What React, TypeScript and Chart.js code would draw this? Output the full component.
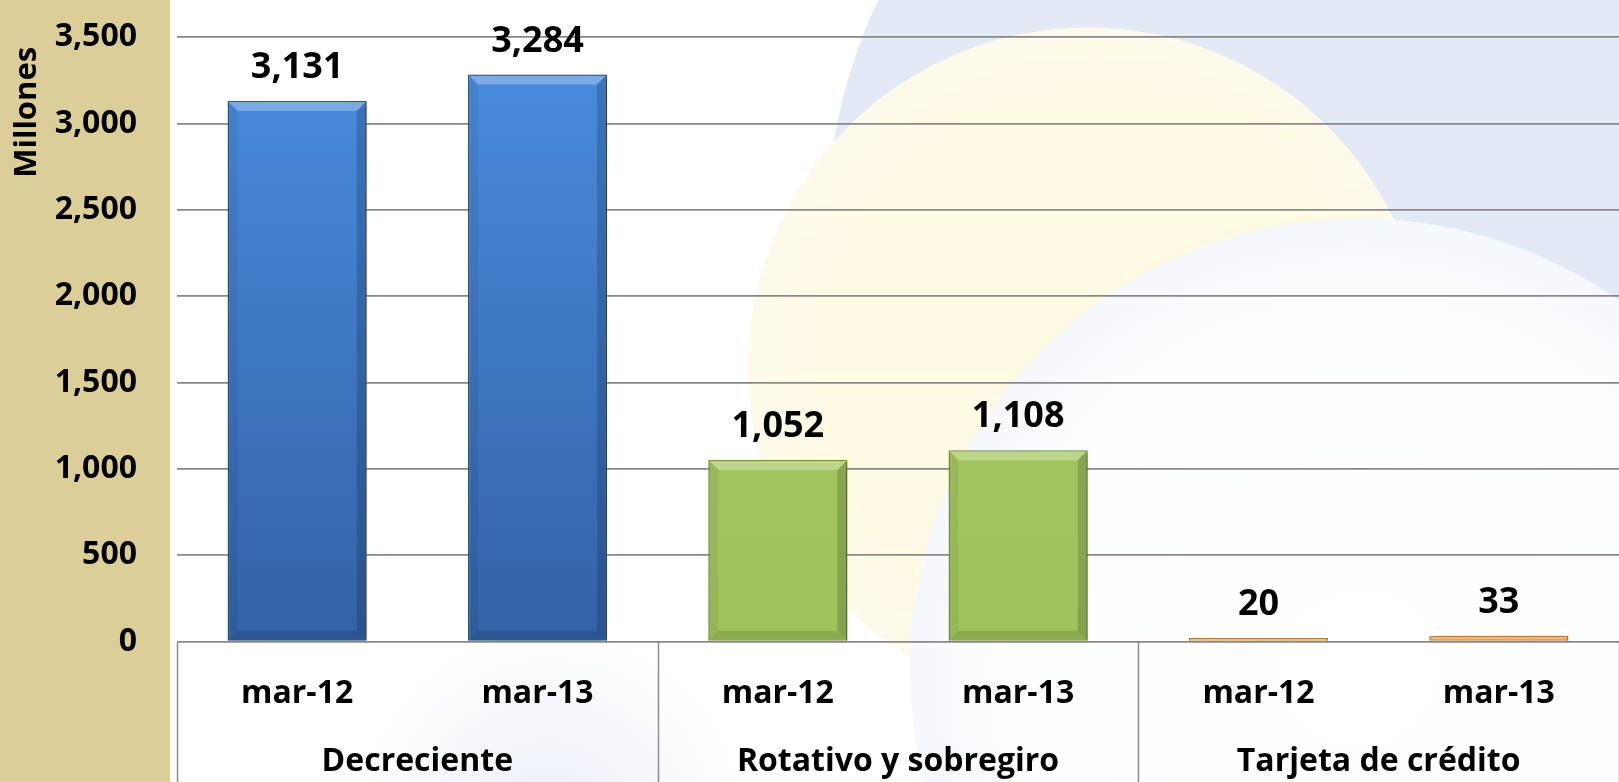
import React, { useEffect, useRef } from 'react';
import { Chart, registerables } from 'chart.js';

Chart.register(...registerables);

// ---- data ----
const categories = ['mar-12', 'mar-13', 'mar-12', 'mar-13', 'mar-12', 'mar-13'];
const groups = ['Decreciente', 'Rotativo y sobregiro', 'Tarjeta de crédito'];
const values = [3131, 3284, 1052, 1108, 20, 33];
const yTicks = [0, 500, 1000, 1500, 2000, 2500, 3000, 3500];
const yTitle = 'Millones';

// ---- styles ----
const FONT = "'Open Sans', 'DejaVu Sans', sans-serif";
const groupStyles = [
  { top: '#4A8DE0', bottom: '#3362A6', border: '#2B5894' },
  { top: '#A9CB66', bottom: '#A0C25C', border: '#7A9A3C' },
  { top: '#F4B46C', bottom: '#E49A50', border: '#BF7A38' },
];
const styleFor = (i: number) => groupStyles[Math.floor(i / 2)];

const fmt = (v: number) => v.toLocaleString('en-US');

const bgPlugin = {
  id: 'bgDecor',
  beforeDraw(chart: any) {
    const { ctx, width: w, height: h } = chart;
    ctx.save();
    ctx.fillStyle = '#FFFFFF';
    ctx.fillRect(0, 0, w, h);
    // faint blue-grey haze lower-left
    const lg = ctx.createRadialGradient(w * 0.34, h * 1.05, 0, w * 0.34, h * 1.05, w * 0.12);
    lg.addColorStop(0, 'rgba(232,237,246,0.9)');
    lg.addColorStop(1, 'rgba(232,237,246,0)');
    ctx.fillStyle = lg;
    ctx.fillRect(0, 0, w, h);
    // light blue disc top-right
    ctx.fillStyle = '#E4EAF5';
    ctx.beginPath();
    ctx.arc(w * 0.85, h * 0.3, w * 0.34, 0, Math.PI * 2);
    ctx.fill();
    ctx.fillRect(w * 0.85, 0, w * 0.15, h * 0.5);
    // pale yellow disc
    const cx = w * 0.672, cy = h * 0.47, r = w * 0.21;
    const yg = ctx.createRadialGradient(cx + r * 0.3, cy, 0, cx, cy, r);
    yg.addColorStop(0, 'rgba(255,250,226,1)');
    yg.addColorStop(0.85, 'rgba(255,250,228,1)');
    yg.addColorStop(1, 'rgba(253,250,236,1)');
    ctx.fillStyle = yg;
    ctx.beginPath();
    ctx.arc(cx, cy, r, 0, Math.PI * 2);
    ctx.fill();
    // white disc bottom-right
    const wx = w * 0.84, wy = h * 0.855, wr = w * 0.278;
    const wg = ctx.createRadialGradient(wx, wy, 0, wx, wy, wr);
    wg.addColorStop(0, 'rgba(255,255,255,1)');
    wg.addColorStop(0.8, 'rgba(252,253,255,1)');
    wg.addColorStop(1, 'rgba(245,248,252,1)');
    ctx.fillStyle = wg;
    ctx.beginPath();
    ctx.arc(wx, wy, wr, 0, Math.PI * 2);
    ctx.fill();
    // tan side panel
    ctx.fillStyle = '#DBCE99';
    ctx.fillRect(0, 0, 170, h);
    ctx.restore();
  },
};

const barDecorPlugin = {
  id: 'barDecor',
  beforeDatasetsDraw(chart: any) {
    const { ctx } = chart;
    ctx.save();
    ctx.shadowColor = 'rgba(0,0,0,0.35)';
    ctx.shadowBlur = 6;
    ctx.shadowOffsetX = 2;
    ctx.shadowOffsetY = 2;
  },
  afterDatasetsDraw(chart: any) {
    const { ctx } = chart;
    ctx.restore();
    const meta = chart.getDatasetMeta(0);
    ctx.save();
    meta.data.forEach((bar: any, i: number) => {
      const left = bar.x - bar.width / 2;
      const right = bar.x + bar.width / 2;
      const top = bar.y;
      const bottom = bar.base;
      const hgt = bottom - top;
      const b = Math.min(9, hgt / 2);
      // top bevel (light)
      ctx.fillStyle = 'rgba(255,255,255,0.28)';
      ctx.beginPath();
      ctx.moveTo(left + 1, top + 1);
      ctx.lineTo(right - 1, top + 1);
      ctx.lineTo(right - 1 - b, top + 1 + b);
      ctx.lineTo(left + 1 + b, top + 1 + b);
      ctx.closePath();
      ctx.fill();
      if (hgt > 20) {
        ctx.fillStyle = 'rgba(0,0,0,0.06)';
        ctx.beginPath();
        ctx.moveTo(left + 1, top + 1);
        ctx.lineTo(left + 1 + b, top + 1 + b);
        ctx.lineTo(left + 1 + b, bottom - 1 - b);
        ctx.lineTo(left + 1, bottom - 1);
        ctx.closePath();
        ctx.fill();
        ctx.fillStyle = 'rgba(0,0,0,0.16)';
        ctx.beginPath();
        ctx.moveTo(right - 1, top + 1);
        ctx.lineTo(right - 1 - b, top + 1 + b);
        ctx.lineTo(right - 1 - b, bottom - 1 - b);
        ctx.lineTo(right - 1, bottom - 1);
        ctx.closePath();
        ctx.fill();
        ctx.fillStyle = 'rgba(0,0,0,0.12)';
        ctx.beginPath();
        ctx.moveTo(left + 1, bottom - 1);
        ctx.lineTo(left + 1 + b, bottom - 1 - b);
        ctx.lineTo(right - 1 - b, bottom - 1 - b);
        ctx.lineTo(right - 1, bottom - 1);
        ctx.closePath();
        ctx.fill();
      }
      // value label
      ctx.fillStyle = '#000000';
      ctx.font = `bold 36px ${FONT}`;
      ctx.textAlign = 'center';
      ctx.textBaseline = 'alphabetic';
      ctx.fillText(fmt(values[i]), bar.x, top - 23);
    });
    ctx.restore();
  },
  afterDraw(chart: any) {
    const { ctx, chartArea, height } = chart;
    const xs = chart.scales.x;
    ctx.save();
    ctx.strokeStyle = '#8C8C8C';
    ctx.lineWidth = 1.5;
    const n = categories.length;
    const step = xs.getPixelForValue(1) - xs.getPixelForValue(0);
    for (let g = 0; g <= groups.length; g++) {
      const idx = g * 2;
      const xPix = idx < n ? xs.getPixelForValue(idx) - step / 2 : xs.getPixelForValue(n - 1) + step / 2;
      ctx.beginPath();
      ctx.moveTo(Math.round(xPix) + 0.5, chartArea.bottom);
      ctx.lineTo(Math.round(xPix) + 0.5, height);
      ctx.stroke();
    }
    // y-axis title, rotated, near the top of the axis
    ctx.translate(27, chartArea.top + 75);
    ctx.rotate(-Math.PI / 2);
    ctx.fillStyle = '#000000';
    ctx.font = `bold 31px ${FONT}`;
    ctx.textAlign = 'center';
    ctx.textBaseline = 'middle';
    ctx.fillText(yTitle, 0, 0);
    ctx.restore();
  },
};

export default function App() {
  const ref = useRef<HTMLCanvasElement | null>(null);

  useEffect(() => {
    if (!ref.current) return;
    const chart = new Chart(ref.current, {
      type: 'bar',
      data: {
        labels: categories,
        datasets: [
          {
            data: values,
            backgroundColor: (c: any) => {
              const s = styleFor(c.dataIndex ?? 0);
              const area = c.chart.chartArea;
              if (!area) return s.top;
              const g = c.chart.ctx.createLinearGradient(0, area.top, 0, area.bottom);
              g.addColorStop(0, s.top);
              g.addColorStop(1, s.bottom);
              return g;
            },
            borderColor: (c: any) => styleFor(c.dataIndex ?? 0).border,
            borderWidth: 1.5,
            barPercentage: 0.579,
            categoryPercentage: 1,
          },
        ],
      },
      options: {
        animation: false,
        responsive: true,
        maintainAspectRatio: false,
        layout: { padding: { top: 37.3, left: 0, right: 0, bottom: 0 } },
        plugins: {
          legend: { display: false },
          tooltip: { enabled: false },
        },
        scales: {
          x: {
            type: 'category',
            position: 'bottom',
            weight: 0,
            grid: { display: false },
            border: { display: false },
            ticks: {
              color: '#000000',
              font: { family: FONT, size: 32, weight: 'bold' },
              padding: 25,
              maxRotation: 0,
              autoSkip: false,
            },
            afterFit: (s: any) => {
              s.height = 90;
            },
          },
          x2: {
            type: 'category',
            position: 'bottom',
            weight: 1,
            labels: groups,
            offset: true,
            grid: { display: false },
            border: { display: false },
            ticks: {
              color: '#000000',
              font: { family: FONT, size: 32, weight: 'bold' },
              padding: 3,
              maxRotation: 0,
              autoSkip: false,
            },
            afterFit: (s: any) => {
              s.height = 50.5;
            },
          },
          y: {
            min: yTicks[0],
            max: yTicks[yTicks.length - 1],
            afterBuildTicks: (s: any) => {
              s.ticks = yTicks.map((v) => ({ value: v }));
            },
            grid: { color: '#888888', lineWidth: 1.7, drawTicks: false },
            border: { display: false },
            ticks: {
              color: '#000000',
              font: { family: FONT, size: 32, weight: 'bold' },
              padding: 40,
              callback: (v: any) => fmt(Number(v)),
            },
            afterFit: (s: any) => {
              s.width = 177;
              s.paddingTop = 19;
              s.paddingBottom = 19;
            },
          },
        },
      },
      plugins: [bgPlugin, barDecorPlugin],
    } as any);
    return () => chart.destroy();
  }, []);

  return (
    <div style={{ position: 'fixed', left: 0, top: 0, width: '100vw', height: '100vh' }}>
      <canvas ref={ref} />
    </div>
  );
}
